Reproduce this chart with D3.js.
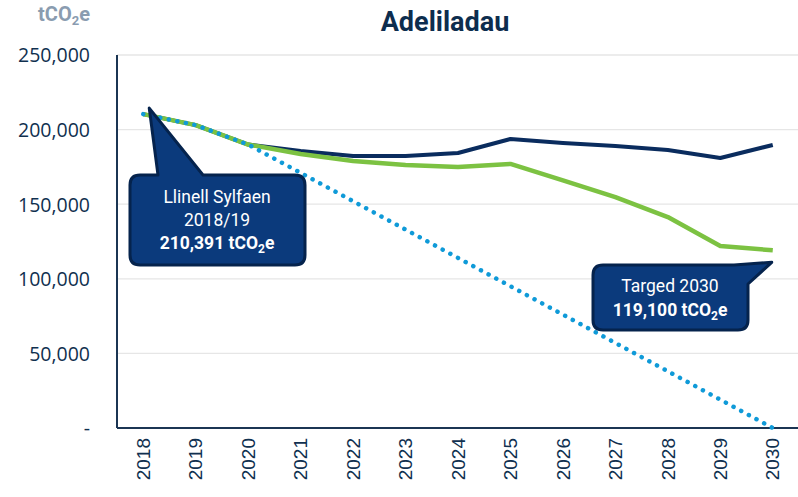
<!DOCTYPE html>
<html><head><meta charset="utf-8">
<script src="https://cdn.jsdelivr.net/npm/d3@7"></script>
<style>html,body{margin:0;padding:0;background:#fff;}svg{display:block;}</style>
</head><body>
<svg id="chart" width="798" height="497"></svg>
<script>
const years = ["2018","2019","2020","2021","2022","2023","2024","2025","2026","2027","2028","2029","2030"];
const baseline = [210391,203000,190000,185700,182300,182300,184300,193700,191000,189000,186300,181000,189700];
const planned = [210391,203000,190000,183600,179000,176300,175000,177000,166000,154800,141400,122000,119100];
const target = [210391,203000,190000,171000,152000,133000,114000,95000,76000,57000,38000,19000,0];
const yTicks = [0,50000,100000,150000,200000,250000];
const yTickLabels = ["-","50,000","100,000","150,000","200,000","250,000"];
const title = "Adeliladau";

const svg = d3.select("#chart");
const L = 117, R = 799, T = 55, B = 428;
const x = d3.scaleBand().domain(years).range([L, R]);
const xc = d => x(d) + x.bandwidth()/2;
const y = d3.scaleLinear().domain([0,250000]).range([B, T]);

// gridlines
svg.append("g").selectAll("line").data(yTicks.filter(d=>d>0)).join("line")
  .attr("x1", L).attr("x2", R).attr("y1", d=>y(d)).attr("y2", d=>y(d))
  .attr("stroke", "#e6e6e6").attr("stroke-width", 1.3);

// y axis labels
const yAxis = d3.axisLeft(y).tickValues(yTicks).tickSize(0).tickPadding(0)
  .tickFormat((d,i)=>yTickLabels[i]);
const gy = svg.append("g").attr("transform", `translate(90,0)`).call(yAxis);
gy.select(".domain").remove();
gy.selectAll("text").attr("font-family","'Open Sans', Roboto, sans-serif").attr("font-size", 19.5)
  .attr("fill","#10304f").attr("dy","0.35em");

// x axis labels
const xAxis = d3.axisBottom(x).tickSize(0).tickPadding(0);
const gx = svg.append("g").attr("transform", `translate(0,${B})`).call(xAxis);
gx.select(".domain").remove();
gx.selectAll("text").attr("font-family","'Liberation Sans', Arial, sans-serif").attr("font-size", 19)
  .attr("fill","#10304f").attr("text-anchor","end").attr("dy","0.35em")
  .attr("transform","translate(0,10) rotate(-90)").attr("x",0).attr("y",0);

// axis lines
svg.append("line").attr("x1",L).attr("x2",L).attr("y1",T).attr("y2",B).attr("stroke","#1b3553").attr("stroke-width",2);
svg.append("line").attr("x1",L).attr("x2",R).attr("y1",B).attr("y2",B).attr("stroke","#1b3553").attr("stroke-width",2);

const line = d3.line().x((d,i)=>xc(years[i])).y(d=>y(d));
svg.append("path").datum(baseline).attr("d", line).attr("fill","none")
  .attr("stroke","#0a2c5e").attr("stroke-width",4).attr("stroke-linejoin","round");
svg.append("path").datum(planned).attr("d", line).attr("fill","none")
  .attr("stroke","#7cc242").attr("stroke-width",4.5).attr("stroke-linejoin","round");
svg.append("path").datum(target).attr("d", line).attr("fill","none")
  .attr("stroke","#0f9ad8").attr("stroke-width",4.5).attr("stroke-linecap","round")
  .attr("stroke-dasharray","0.1 8.6");

// title
svg.append("text").attr("x",445).attr("y",31).attr("text-anchor","middle")
  .attr("font-family","Roboto, sans-serif").attr("font-weight","bold").attr("font-size",27)
  .attr("fill","#0d2d4e").text(title);

// unit label
const unit = svg.append("text").attr("x",90).attr("y",21).attr("text-anchor","end")
  .attr("font-family","Roboto, sans-serif").attr("font-weight","bold").attr("font-size",20)
  .attr("fill","#8a9cb0");
unit.append("tspan").text("tCO");
unit.append("tspan").attr("font-size",13).attr("dy",4).text("2");
unit.append("tspan").attr("dy",-4).text("e");

// callouts
function callout(pathD, lines){
  const g = svg.append("g");
  g.append("path").attr("d", pathD).attr("fill","#0b3a7c").attr("stroke","#05234d")
    .attr("stroke-width",3).attr("stroke-linejoin","round");
  lines.forEach(l=>{
    const t = g.append("text").attr("x",l.x).attr("y",l.y).attr("text-anchor","middle")
      .attr("font-family","Roboto, sans-serif").attr("font-size",17.5).attr("fill","#fff")
      .attr("font-weight", l.bold ? "bold" : "normal");
    if (l.sub){
      t.append("tspan").text(l.text);
      t.append("tspan").attr("font-size",12).attr("dy",3.5).text("2");
      t.append("tspan").attr("dy",-3.5).text("e");
    } else t.text(l.text);
  });
}
const tip1x = xc(years[0]) + 6, tip1y = y(baseline[0]) - 6;
callout(`M140,175 L158,175 L${tip1x},${tip1y} L203,175 L295,175 Q305,175 305,185 L305,255 Q305,265 295,265 L140,265 Q130,265 130,255 L130,185 Q130,175 140,175 Z`,
  [{x:217,y:203,text:"Llinell Sylfaen"},{x:217,y:226,text:"2018/19"},{x:217,y:249,text:"210,391 tCO",bold:true,sub:true}]);
const tip2x = xc(years[12]) - 1, tip2y = y(planned[12]) + 12;
callout(`M603,265 L734,265 L${tip2x},${tip2y} L748,284 L748,320 Q748,330 738,330 L603,330 Q593,330 593,320 L593,275 Q593,265 603,265 Z`,
  [{x:670,y:292,text:"Targed 2030"},{x:670,y:316,text:"119,100 tCO",bold:true,sub:true}]);
</script>
</body></html>
